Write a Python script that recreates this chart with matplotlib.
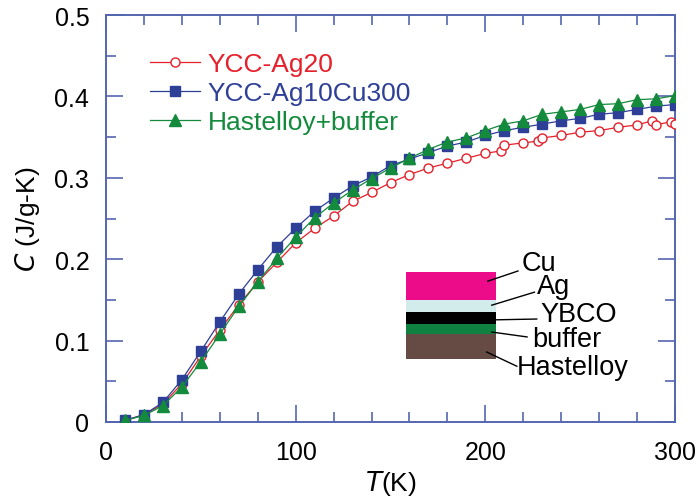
import numpy as np
import matplotlib
matplotlib.use("Agg")
import matplotlib.pyplot as plt
from matplotlib.patches import Rectangle
from matplotlib.ticker import MultipleLocator

plt.rcParams['font.family'] = ['Liberation Sans', 'DejaVu Sans']

# YCC-Ag20 (open red circles), a few temperatures measured twice
t_ag20 = [10, 20, 30, 40, 50, 60, 70, 80, 90, 100, 110, 120, 130, 140, 150,
          160, 170, 180, 190, 200, 208, 210, 220, 228, 230, 240, 250, 260,
          270, 280, 288, 290, 298, 300]
c_ag20 = [0.002, 0.009, 0.022, 0.047, 0.081, 0.113, 0.144, 0.172, 0.196,
          0.220, 0.238, 0.253, 0.271, 0.282, 0.294, 0.304, 0.312, 0.318,
          0.324, 0.330, 0.333, 0.340, 0.343, 0.345, 0.349, 0.352, 0.356,
          0.358, 0.362, 0.365, 0.370, 0.365, 0.369, 0.366]

# YCC-Ag10Cu300 (blue squares)
t_cu = [10, 20, 30, 40, 50, 60, 70, 80, 90, 100, 110, 120, 130, 140, 150,
        160, 170, 180, 190, 200, 210, 220, 230, 240, 250, 260, 270, 280,
        290, 300]
c_cu = [0.002, 0.009, 0.024, 0.052, 0.087, 0.123, 0.157, 0.187, 0.215,
        0.238, 0.259, 0.275, 0.290, 0.301, 0.315, 0.323, 0.331, 0.339,
        0.344, 0.352, 0.358, 0.362, 0.366, 0.370, 0.373, 0.378, 0.380,
        0.384, 0.388, 0.390]

# Hastelloy+buffer (green triangles)
t_hast = [10, 20, 30, 40, 50, 60, 70, 80, 90, 100, 110, 120, 130, 140, 150,
          160, 170, 180, 190, 200, 210, 220, 230, 240, 250, 260, 270, 280,
          290, 300]
c_hast = [0.002, 0.008, 0.020, 0.043, 0.074, 0.108, 0.142, 0.172, 0.201,
          0.227, 0.251, 0.269, 0.285, 0.299, 0.312, 0.324, 0.335, 0.344,
          0.349, 0.358, 0.366, 0.370, 0.378, 0.381, 0.384, 0.390, 0.391,
          0.396, 0.397, 0.401]

# inset layer stack, top to bottom
layers = ['Cu', 'Ag', 'YBCO', 'buffer', 'Hastelloy']
layer_colors = ['#ec0c8a', '#d2ebeb', '#000000', '#0e8040', '#654b43']

red = '#e6202a'
blue = '#2e3f98'
green = '#138a3c'
axcol = '#5566b0'

fig = plt.figure(figsize=(6.97, 5.02), dpi=100)
ax = fig.add_axes([106 / 697, 1 - 423 / 502, 569 / 697, 407 / 502])

ax.plot(t_ag20, c_ag20, '-o', color=red, lw=0.9, ms=6.5, mfc='white',
        mec=red, mew=1.0, label='YCC-Ag20', zorder=3)
ax.plot(t_cu, c_cu, '-s', color=blue, lw=0.9, ms=7.5, mfc=blue, mec=blue,
        label='YCC-Ag10Cu300', zorder=4)
ax.plot(t_hast, c_hast, '-^', color=green, lw=0.9, ms=8.5, mfc=green,
        mec=green, label='Hastelloy+buffer', zorder=5)

ax.set_xlim(0, 300)
ax.set_ylim(0, 0.5)
ax.xaxis.set_major_locator(MultipleLocator(100))
ax.xaxis.set_minor_locator(MultipleLocator(20))
ax.yaxis.set_major_locator(MultipleLocator(0.1))
ax.yaxis.set_minor_locator(MultipleLocator(0.05))
ax.set_yticks([0, 0.1, 0.2, 0.3, 0.4, 0.5])
ax.set_yticklabels(['0', '0.1', '0.2', '0.3', '0.4', '0.5'])
ax.tick_params(which='both', direction='in', top=True, right=True,
               color=axcol, labelsize=18, width=1.2)
ax.tick_params(which='major', length=12)
ax.tick_params(axis='x', which='major', pad=13)
ax.tick_params(axis='y', which='major', pad=12)
ax.tick_params(which='minor', length=7)
for s in ax.spines.values():
    s.set_color(axcol)
    s.set_linewidth(1.4)

ax.set_xlabel(r'$T$(K)', fontsize=19, labelpad=3)
ax.set_ylabel(r'$C$ (J/g-K)', fontsize=19, labelpad=9)

leg = ax.legend(loc='upper left', bbox_to_anchor=(0.04, 0.96), frameon=False,
                fontsize=19, handlelength=1.9, handletextpad=0.3,
                labelspacing=0.19, borderaxespad=0.4)
for txt, c in zip(leg.get_texts(), [red, blue, green]):
    txt.set_color(c)

# inset: layered conductor cross-section
x0, x1 = 0.527, 0.685
edges = [0.369, 0.300, 0.270, 0.241, 0.216, 0.155]
for i, col in enumerate(layer_colors):
    ax.add_patch(Rectangle((x0, edges[i + 1]), x1 - x0,
                           edges[i] - edges[i + 1], transform=ax.transAxes,
                           facecolor=col, edgecolor='none', zorder=2))

label_pos = [(0.731, 0.391), (0.757, 0.334), (0.763, 0.265),
             (0.749, 0.204), (0.722, 0.135)]
line_from = [(0.671, 0.346), (0.678, 0.287), (0.683, 0.251),
             (0.678, 0.221), (0.669, 0.172)]
line_to = [(0.724, 0.371), (0.753, 0.319), (0.757, 0.253),
           (0.740, 0.209), (0.722, 0.137)]
for name, (tx, ty), p0, p1 in zip(layers, label_pos, line_from, line_to):
    ax.text(tx, ty, name, transform=ax.transAxes, fontsize=19.5,
            ha='left', va='center', zorder=6)
    ax.plot([p0[0], p1[0]], [p0[1], p1[1]], color='black', lw=1.0,
            transform=ax.transAxes, zorder=6)

fig.savefig('out.png', dpi=100)
